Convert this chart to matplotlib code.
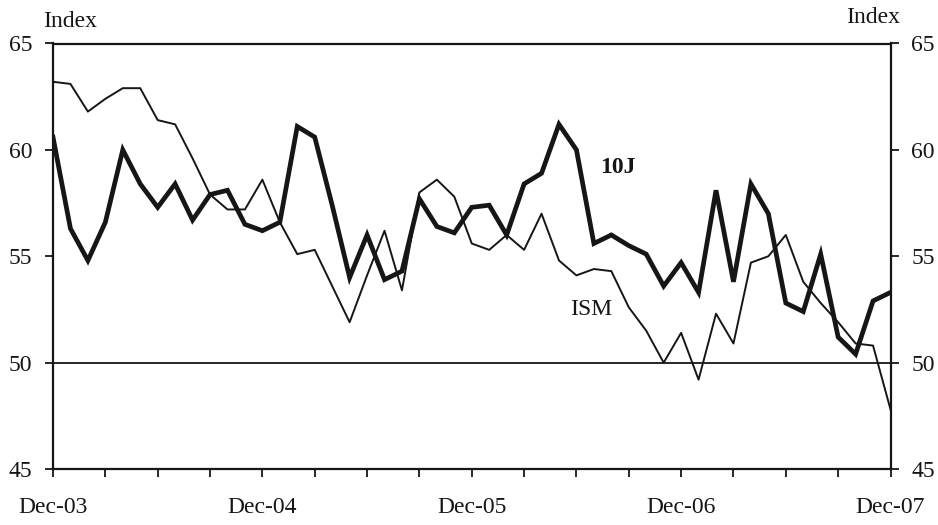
import matplotlib
matplotlib.use("Agg")
import matplotlib.pyplot as plt
import numpy as np

plt.rcParams["font.family"] = ["Liberation Serif", "DejaVu Serif"]

# Monthly readings, Dec-03 .. Dec-07
tick_labels = ["Dec-03", "Dec-04", "Dec-05", "Dec-06", "Dec-07"]
ten_j = [60.6, 56.3, 54.8, 56.6, 60.0, 58.4, 57.3, 58.4, 56.7, 57.9, 58.1, 56.5,
         56.2, 56.6, 61.1, 60.6, 57.4, 54.0, 56.0, 53.9, 54.3, 57.7, 56.4, 56.1,
         57.3, 57.4, 56.0, 58.4, 58.9, 61.2, 60.0, 55.6, 56.0, 55.5, 55.1, 53.6,
         54.7, 53.3, 58.1, 53.8, 58.4, 57.0, 52.8, 52.4, 55.1, 51.2, 50.4, 52.9,
         53.3]
ism = [63.2, 63.1, 61.8, 62.4, 62.9, 62.9, 61.4, 61.2, 59.6, 57.9, 57.2, 57.2,
       58.6, 56.6, 55.1, 55.3, 53.6, 51.9, 54.1, 56.2, 53.4, 58.0, 58.6, 57.8,
       55.6, 55.3, 56.0, 55.3, 57.0, 54.8, 54.1, 54.4, 54.3, 52.6, 51.5, 50.0,
       51.4, 49.2, 52.3, 50.9, 54.7, 55.0, 56.0, 53.8, 52.8, 51.9, 50.9, 50.8,
       47.8]

months = np.arange(len(ten_j))
ink = "#161616"

fig = plt.figure(figsize=(9.38, 5.25), dpi=100)
ax = fig.add_axes([53 / 938, 1 - 469 / 525, (890.5 - 53) / 938, (469 - 43.5) / 525])

ax.plot(months, ism, color=ink, linewidth=1.4)
ax.plot(months, ten_j, color=ink, linewidth=3.4, solid_joinstyle="miter")
ax.axhline(50, color=ink, linewidth=1.3)

ax.set_xlim(0, 48)
ax.set_ylim(45, 65)
ax.set_yticks([45, 50, 55, 60, 65])
ax.set_xticks(np.arange(0, 49, 12))
ax.set_xticklabels(tick_labels)
ax.set_xticks(np.arange(0, 49, 3), minor=True)

for s in ax.spines.values():
    s.set_linewidth(1.6)
    s.set_color(ink)

ax.tick_params(axis="both", which="both", direction="out", length=6,
               width=1.3, color=ink, labelsize=17, labelcolor=ink)
ax.tick_params(axis="x", which="major", pad=14)
ax.tick_params(axis="y", pad=9)

# Right axis, same scale
ax2 = ax.twinx()
ax2.set_ylim(45, 65)
ax2.set_yticks([45, 50, 55, 60, 65])
ax2.tick_params(axis="y", direction="out", length=6, width=1.3, color=ink,
                labelsize=17, labelcolor=ink, pad=9)
for s in ax2.spines.values():
    s.set_visible(False)

# Series labels
ax.text(32.35, 59.15, "10J", fontsize=17, fontweight="bold", color=ink,
        ha="center", va="center")
ax.text(30.85, 52.5, "ISM", fontsize=17, color=ink, ha="center", va="center")

# Axis titles
fig.text(43 / 938, 1 - 27 / 525, "Index", fontsize=17, color=ink,
         ha="left", va="baseline")
fig.text(900 / 938, 1 - 23 / 525, "Index", fontsize=17, color=ink,
         ha="right", va="baseline")

fig.savefig("out.png", dpi=100)
